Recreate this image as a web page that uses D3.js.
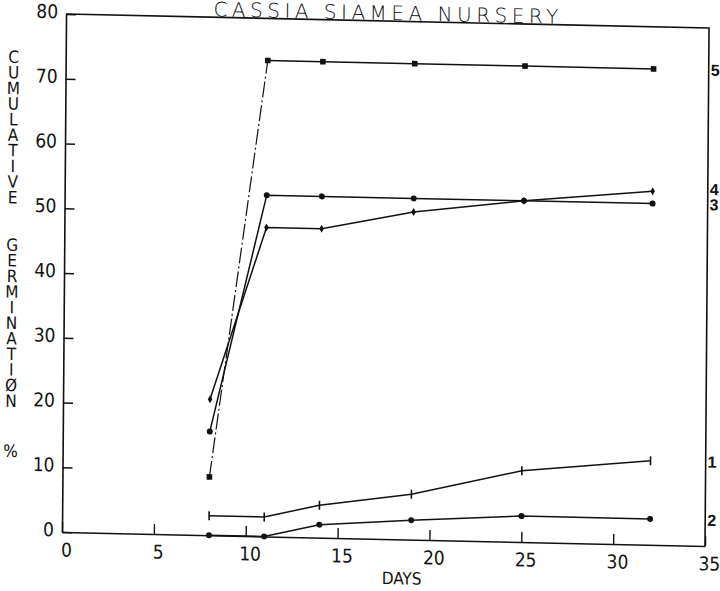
<!DOCTYPE html>
<html>
<head>
<meta charset="utf-8">
<script src="https://cdn.jsdelivr.net/npm/d3@7"></script>
<style>
  html, body { margin: 0; padding: 0; background: #fff; }
  svg { display: block; }
  .narrow { font-family: "Liberation Sans Narrow", "DejaVu Sans Condensed", "Roboto Condensed", sans-serif; font-stretch: condensed; }
</style>
</head>
<body>
<svg id="chart" width="720" height="591"></svg>
<script>
// Cumulative germination (%) by day for five nursery treatments
const days = [8, 11, 14, 19, 25, 32];
const series1 = [3, 3, 5, 7, 11, 13];
const series2 = [0, 0, 2, 3, 4, 4];
const series3 = [16, 52.7, 52.7, 52.7, 52.7, 52.7];
const series4 = [21, 47.7, 47.7, 50.6, 52.7, 54.6];
const series5 = [9, 73.5, 73.5, 73.5, 73.5, 73.5];
const seriesNames = ["1", "2", "3", "4", "5"];
const xTickValues = [0, 5, 10, 15, 20, 25, 30, 35];
const yTickValues = [0, 10, 20, 30, 40, 50, 60, 70, 80];
const chartTitle = "CASSIA SIAMEA NURSERY";
const xTitle = "DAYS";
const yTitleWords = ["CUMULATIVE", "GERMINATIØN", "%"];

const allSeries = [series1, series2, series3, series4, series5];
const markerKinds = ["tick", "dot", "dot", "diamond", "square"];
const ink = "#111";

const svg = d3.select("#chart");
const x = d3.scaleLinear().domain([0, 35]).range([62, 705]);
const y = d3.scaleLinear().domain([0, 80]).range([532, 14]);

// the plotted sheet sits slightly askew, so the whole drawing gets a small shear
const g = svg.append("g")
  .attr("transform", "matrix(1,0.0218,-0.0078,1,4.15,-1.35)");

// title
g.append("text")
  .attr("x", 384).attr("y", 13)
  .attr("text-anchor", "middle")
  .style("font-family", "DejaVu Sans, sans-serif")
  .style("font-size", "20px")
  .style("font-weight", "200")
  .style("letter-spacing", "4.5px")
  .attr("fill", ink)
  .text(chartTitle);

// axes
const yAxis = d3.axisLeft(y).tickValues(yTickValues)
  .tickSizeInner(-10).tickSizeOuter(0).tickPadding(8)
  .tickFormat(d3.format("d"));
const xAxis = d3.axisBottom(x).tickValues(xTickValues)
  .tickSizeInner(-10).tickSizeOuter(0).tickPadding(11)
  .tickFormat(d3.format("d"));

const gy = g.append("g").attr("transform", `translate(${x(0)},0)`).call(yAxis);
const gx = g.append("g").attr("transform", `translate(0,${y(0)})`).call(xAxis);

[gx, gy].forEach(a => {
  a.selectAll("path.domain").attr("stroke", ink).attr("stroke-width", 1.6);
  a.selectAll(".tick line").attr("stroke", ink).attr("stroke-width", 1.4);
  a.selectAll(".tick text")
    .attr("class", "narrow")
    .attr("fill", ink)
    .style("font-size", "19px");
});
gy.selectAll(".tick text").attr("dy", "0.2em");
gx.selectAll(".tick text").attr("dx", 4);

// top and right edges of the frame
g.append("path")
  .attr("d", d3.line()([[x(0), y(80)], [x(35), y(80)], [x(35), y(0)]]))
  .attr("fill", "none").attr("stroke", ink).attr("stroke-width", 1.6);

// axis titles
g.append("text")
  .attr("class", "narrow")
  .attr("x", x(18.5)).attr("y", y(0) + 45)
  .attr("text-anchor", "middle")
  .style("font-size", "17px")
  .attr("fill", ink)
  .text(xTitle);

const letterStep = 15.6;
const wordStarts = [58, 246, 452];
yTitleWords.forEach((word, wi) => {
  Array.from(word).forEach((ch, ci) => {
    g.append("text")
      .attr("class", "narrow")
      .attr("x", 10)
      .attr("y", wordStarts[wi] + ci * letterStep)
      .attr("text-anchor", "middle")
      .attr("dominant-baseline", "central")
      .style("font-size", "17px")
      .attr("fill", ink)
      .text(ch);
  });
});

// series lines
const line = d3.line().x((d, i) => x(days[i])).y(d => y(d));
allSeries.forEach((vals, si) => {
  if (si === 4) {
    // the steep rise of series 5 was drawn broken
    g.append("path")
      .attr("d", d3.line()([[x(days[0]), y(vals[0])], [x(days[1]), y(vals[1])]]))
      .attr("fill", "none").attr("stroke", ink).attr("stroke-width", 1.2)
      .attr("stroke-dasharray", "16,3,2,3");
    g.append("path")
      .attr("d", d3.line().x((d, i) => x(days[i + 1])).y(d => y(d))(vals.slice(1)))
      .attr("fill", "none").attr("stroke", ink).attr("stroke-width", 1.5);
  } else {
    g.append("path")
      .attr("d", line(vals))
      .attr("fill", "none").attr("stroke", ink).attr("stroke-width", 1.5);
  }
});

// markers
allSeries.forEach((vals, si) => {
  const kind = markerKinds[si];
  vals.forEach((v, i) => {
    const cx = x(days[i]), cy = y(v);
    if (kind === "dot") {
      g.append("circle").attr("cx", cx).attr("cy", cy).attr("r", 3).attr("fill", ink);
    } else if (kind === "square") {
      g.append("rect").attr("x", cx - 2.8).attr("y", cy - 2.8)
        .attr("width", 5.6).attr("height", 5.6).attr("fill", ink);
    } else if (kind === "diamond") {
      g.append("path").attr("transform", `translate(${cx},${cy})`)
        .attr("d", d3.symbol(d3.symbolDiamond, 18)()).attr("fill", ink);
    } else {
      g.append("line").attr("x1", cx).attr("x2", cx)
        .attr("y1", cy - 4.5).attr("y2", cy + 4.5)
        .attr("stroke", ink).attr("stroke-width", 1.6);
    }
  });
});

// series numbers at the right edge
const labelNudge = { "4": -3 };
allSeries.forEach((vals, si) => {
  const name = seriesNames[si];
  g.append("text")
    .attr("x", x(35) + 2)
    .attr("y", y(vals[vals.length - 1]) + (labelNudge[name] || 0))
    .attr("dominant-baseline", "central")
    .style("font-family", "Liberation Sans, Arial, sans-serif")
    .style("font-weight", "bold")
    .style("font-size", "16px")
    .attr("fill", ink)
    .text(name);
});
</script>
</body>
</html>
